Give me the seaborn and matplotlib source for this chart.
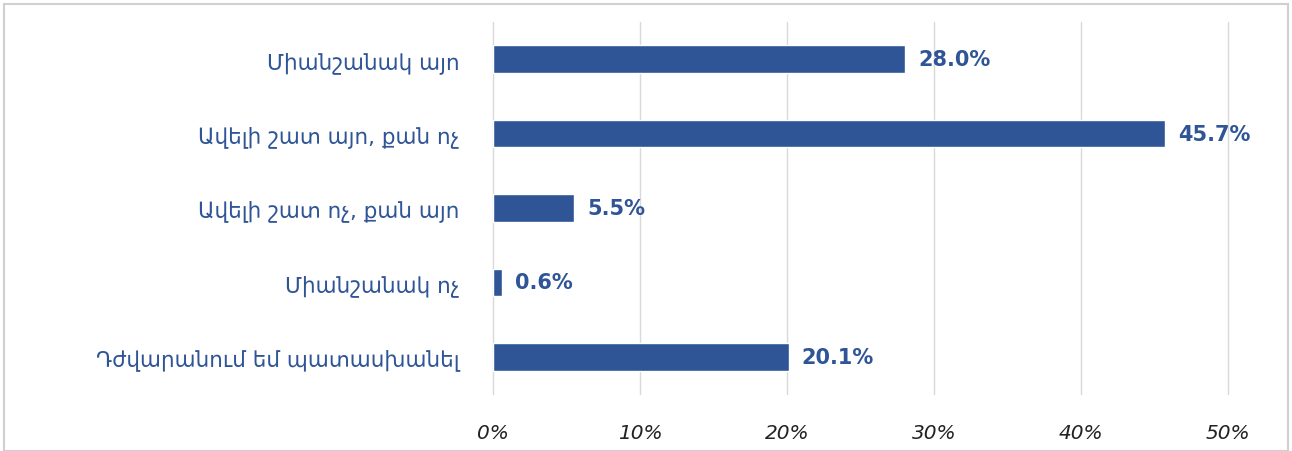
import numpy as np
import pandas as pd
import matplotlib.pyplot as plt
import seaborn as sns
from matplotlib.patches import Rectangle

categories = [
    "Միանշանակ այո",
    "Ավելի շատ այո, քան ոչ",
    "Ավելի շատ ոչ, քան այո",
    "Միանշանակ ոչ",
    "Դժվարանում եմ պատասխանել",
]
values = [28.0, 45.7, 5.5, 0.6, 20.1]
xticks = [0, 10, 20, 30, 40, 50]

BLUE = "#2F5597"

sns.set_theme(style="white")
plt.rcParams["font.family"] = ["DejaVu Sans"]

df = pd.DataFrame({"cat": categories, "val": values})

fig = plt.figure(figsize=(12.92, 4.52), dpi=100)
ax = fig.add_axes([0.3816, 0.126, 0.569, 0.823])

sns.barplot(data=df, y="cat", x="val", orient="h", color=BLUE,
            width=0.37, saturation=1, ax=ax, zorder=3)

ax.set_xlim(0, 50)
ax.set_xticks(xticks)
ax.set_xticklabels([f"{t}%" for t in xticks], fontsize=14.5, style="italic",
                   color="#222222")
ax.tick_params(axis="x", length=0, pad=21)
ax.tick_params(axis="y", length=0, pad=24, labelsize=15.5, labelcolor=BLUE)
ax.set_xlabel("")
ax.set_ylabel("")
ax.grid(axis="x", color="#D9D9D9", linewidth=1, zorder=0)
for gl in ax.get_xgridlines():
    gl.set_clip_on(False)
for s in ax.spines.values():
    s.set_visible(False)

for i, v in enumerate(values):
    ax.text(v + 0.9, i, f"{v:.1f}%", va="center", ha="left",
            fontsize=15, fontweight="bold", color=BLUE)

# outer frame
fig.patches.append(Rectangle((0.003, 0.0), 0.994, 0.99, transform=fig.transFigure,
                             fill=False, edgecolor="#D0D0D0", linewidth=1.5))

fig.savefig("out.png", dpi=100, facecolor="white")
